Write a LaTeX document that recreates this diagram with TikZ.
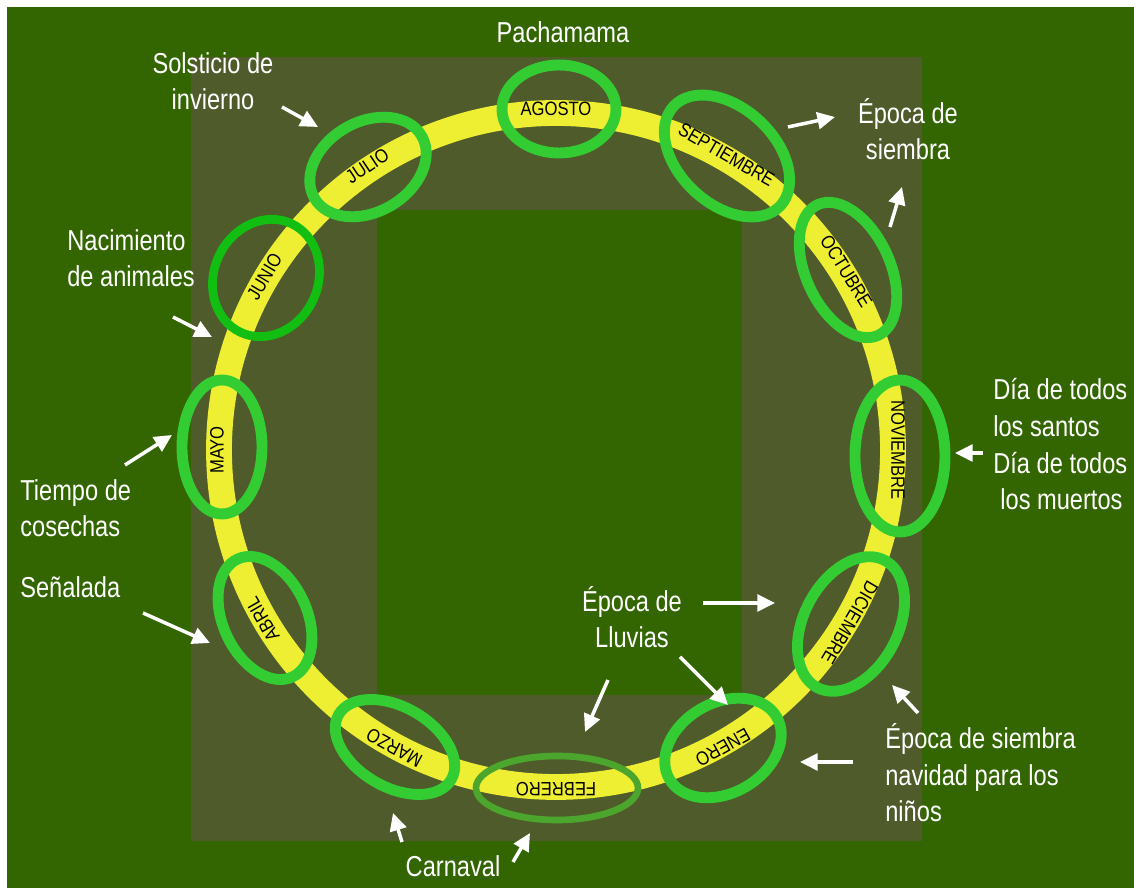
\documentclass[tikz,border=0pt]{standalone}
\usepackage{fontspec}
\setmainfont{Liberation Sans}[FakeStretch=0.82]
\newfontfamily\monthfont{Liberation Sans}[FakeStretch=0.86]
\usepackage{tikz}
\usetikzlibrary{calc}
\usetikzlibrary{arrows.meta}
\definecolor{bggreen}{RGB}{51,102,0}
\definecolor{framegreen}{RGB}{79,91,43}
\definecolor{ringyellow}{RGB}{238,238,51}
\definecolor{loopgreen}{RGB}{51,204,51}
\definecolor{junegreen}{RGB}{17,190,17}
\definecolor{febgreen}{RGB}{76,165,44}
\tikzset{
  note_text/.style = {text=white, inner sep=0pt,
    font=\fontsize{16.4}{21}\selectfont},
  month_text/.style = {text=black, inner sep=0pt,
    font=\monthfont\fontsize{11}{13}\selectfont},
  month_loop/.style = {draw=loopgreen, line width=6.2pt},
  note_arrow/.style = {->, draw=white, line width=2pt}
}
\begin{document}
\begin{tikzpicture}[
    x=0.02cm, y=0.02cm,
    >={Triangle[length=10pt, width=9.5pt]}
    ]
  \useasboundingbox (0,0) rectangle (1134,888);
  \fill[white] (0,0) rectangle (1134,888);
  \fill[bggreen] (7,0) rectangle (1134,881);
  \fill[framegreen] (191,47) rectangle (922,831);
  \fill[bggreen] (377,193) rectangle (742,678);
  \coordinate (hub) at (556,438);
  \draw[ringyellow, line width=14.7pt] (hub) circle [radius=337];

  % months
  \node[month_text, rotate=0] (agosto) at ($(hub)+(90:341)$) {AGOSTO};
  \node[month_text, rotate=-30] (septiembre) at ($(hub)+(60:341)$) {SEPTIEMBRE};
  \node[month_text, rotate=-58.4] (octubre) at ($(hub)+(31.6:341)$) {OCTUBRE};
  \node[month_text, rotate=-90] (noviembre) at ($(hub)+(0:342)$) {NOVIEMBRE};
  \node[month_text, rotate=-120.5] (diciembre) at ($(hub)+(-30.5:341)$) {DICIEMBRE};
  \node[month_text, rotate=-150.7] (enero) at ($(hub)+(-60.7:341)$) {ENERO};
  \node[month_text, rotate=180] (febrero) at ($(hub)+(-90:339)$) {FEBRERO};
  \node[month_text, rotate=151.5] (marzo) at ($(hub)+(241.5:339)$) {MARZO};
  \node[month_text, rotate=120] (abril) at ($(hub)+(210:339)$) {ABRIL};
  \node[month_text, rotate=90] (mayo) at ($(hub)+(180:339)$) {MAYO};
  \node[month_text, rotate=59.3] (junio) at ($(hub)+(149.3:339)$) {JUNIO};
  \node[month_text, rotate=33.6] (julio) at ($(hub)+(123.6:341)$) {JULIO};

  \draw[month_loop] (559,779) ellipse [x radius=57, y radius=44];
  \draw[month_loop, rotate around={-43:(727,732)}] (727,732) ellipse [x radius=73, y radius=48];
  \draw[month_loop, rotate around={-65:(848,618)}] (848,618) ellipse [x radius=72, y radius=42];
  \draw[month_loop] (900,432) ellipse [x radius=45, y radius=76];
  \draw[month_loop, rotate around={62:(851,264)}] (851,264) ellipse [x radius=72, y radius=47];
  \draw[month_loop, rotate around={30:(723,140)}] (723,140) ellipse [x radius=62, y radius=45];
  \draw[month_loop, draw=febgreen, line width=3.8pt] (557,100) ellipse [x radius=81, y radius=32];
  \draw[month_loop, rotate around={-30:(395,141)}] (395,141) ellipse [x radius=65, y radius=40];
  \draw[month_loop, rotate around={-65:(265,270)}] (265,270) ellipse [x radius=65, y radius=42];
  \draw[month_loop] (222,441) ellipse [x radius=40, y radius=67];
  \draw[month_loop, draw=junegreen, line width=5pt, rotate around={65:(266,610)}] (266,610) ellipse [x radius=60, y radius=52];
  \draw[month_loop, rotate around={30:(368,721)}] (368,721) ellipse [x radius=62, y radius=45];

  % notes (base = last line)
  \node[note_text, anchor=base] (pachamama) at (563,845) {Pachamama};
  \node[note_text, align=center, anchor=base] (solsticio) at (213,778) {Solsticio de\\invierno};
  \node[note_text, align=left, anchor=base west] (nacimiento) at (67,601) {Nacimiento\\de animales};
  \node[note_text, align=left, anchor=base west] (cosechas) at (20,351) {Tiempo de\\cosechas};
  \node[note_text, anchor=base west] (senalada) at (20,290) {Señalada};
  \node[note_text, align=center, anchor=base] (siembra) at (908,728) {Época de\\siembra};
  \node[note_text, align=left, anchor=base west] (difuntos) at (993,378) {Día de todos\\los santos\\Día de todos\\\hspace*{4pt}los muertos};
  \node[note_text, align=center, anchor=base] (lluvias) at (632,240) {Época de\\Lluvias};
  \node[note_text, anchor=base] (carnaval) at (453,11) {Carnaval};
  \node[note_text, align=left, anchor=base west] (navidad) at (885,66) {Época de siembra\\navidad para los\\niños};

  \coordinate (sol tail) at (282,781);  \coordinate (sol head) at (318,761);
  \coordinate (nac tail) at (173,571);  \coordinate (nac head) at (212,551);
  \coordinate (cos tail) at (125,423);  \coordinate (cos head) at (172,453);
  \coordinate (sen tail) at (143,275);  \coordinate (sen head) at (210,245);
  \coordinate (sie tail a) at (788,761); \coordinate (sie head a) at (835,771);
  \coordinate (sie tail b) at (890,661); \coordinate (sie head b) at (902,701);
  \coordinate (dif tail) at (983,435);  \coordinate (dif head) at (955,435);
  \coordinate (llu tail a) at (703,285); \coordinate (llu head a) at (775,285);
  \coordinate (llu tail b) at (680,231); \coordinate (llu head b) at (728,183);
  \coordinate (llu tail c) at (608,208); \coordinate (llu head c) at (585,156);
  \coordinate (car tail a) at (402,46);  \coordinate (car head a) at (393,75);
  \coordinate (car tail b) at (513,26);  \coordinate (car head b) at (530,55);
  \coordinate (nav tail a) at (918,175); \coordinate (nav head a) at (892,203);
  \coordinate (nav tail b) at (853,126); \coordinate (nav head b) at (800,126);

  \draw[note_arrow] (sol tail) -- (sol head);
  \draw[note_arrow] (nac tail) -- (nac head);
  \draw[note_arrow] (cos tail) -- (cos head);
  \draw[note_arrow] (sen tail) -- (sen head);
  \draw[note_arrow] (sie tail a) -- (sie head a);
  \draw[note_arrow] (sie tail b) -- (sie head b);
  \draw[note_arrow] (dif tail) -- (dif head);
  \draw[note_arrow] (llu tail a) -- (llu head a);
  \draw[note_arrow] (llu tail b) -- (llu head b);
  \draw[note_arrow] (llu tail c) -- (llu head c);
  \draw[note_arrow] (car tail a) -- (car head a);
  \draw[note_arrow] (car tail b) -- (car head b);
  \draw[note_arrow] (nav tail a) -- (nav head a);
  \draw[note_arrow] (nav tail b) -- (nav head b);
\end{tikzpicture}
\end{document}
